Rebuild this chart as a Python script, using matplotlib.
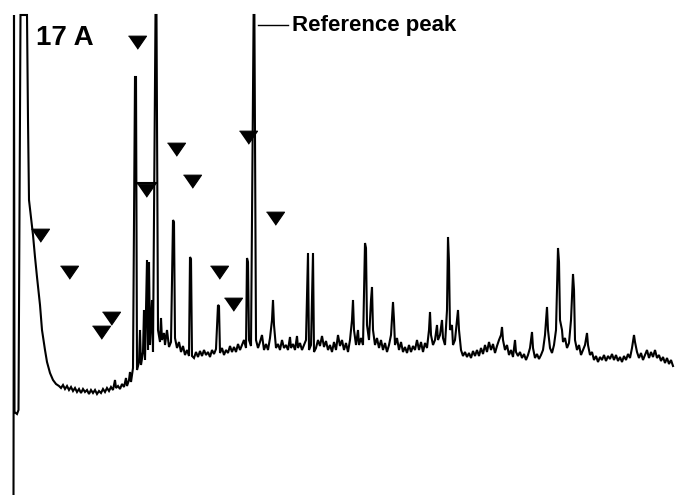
import matplotlib
matplotlib.use("Agg")
import matplotlib.pyplot as plt

plt.rcParams['font.family'] = ['Liberation Sans', 'DejaVu Sans']

# Retention (arbitrary units) and detector response (arbitrary units)
rt = [13.5, 14, 14.5, 17, 18.5, 20.5, 27, 28, 29, 31, 33, 35, 37, 40, 42, 45, 47, 50, 53, 56, 59,
      61, 63, 65, 67, 69, 71, 73, 75, 77, 79, 81, 83, 85, 87, 89, 91, 93, 95, 97, 99, 101, 103, 105,
      107, 109, 111, 113, 115, 116, 118, 120, 122, 124, 126, 127, 129, 130, 131, 133,
      135, 136, 137, 139, 140, 141, 143, 144, 145, 147, 148, 149, 150, 152, 153, 155.5, 156.5, 158, 160,
      161, 162, 164, 165, 167, 169, 171, 173, 174, 175, 177, 179, 181, 183, 185, 187, 189, 190, 191,
      192, 194, 196, 198,
      200, 202, 204, 206, 208, 210, 212, 214, 216, 218, 219, 220, 222, 224, 226, 228, 230, 232, 234,
      236, 238, 240, 242, 244, 246, 247, 248, 249, 251, 253.6, 254.4, 256, 258, 260, 262, 264, 266, 268,
      270, 272, 273, 274, 276, 278, 280, 282, 284, 286, 288, 290, 291, 293, 295, 297, 298, 300, 302,
      304, 306, 308, 309, 311, 313, 314, 316,
      318, 320, 322, 324, 326, 328, 330, 332, 334, 336, 338, 340, 342, 344, 346, 348, 350, 352, 353,
      354, 356, 358, 359, 361, 363, 365, 366, 367, 369, 371, 372, 373, 375, 377, 379, 381, 383, 385,
      387, 389, 391, 393, 394, 395, 397, 399, 401, 403, 405, 407, 409, 411, 413, 415, 417, 419, 421,
      423, 425, 427, 429, 430, 431, 433, 435, 437, 438, 440, 442, 443, 445, 447, 448, 449, 450, 452,
      453, 455, 457, 458, 459, 461, 463,
      465, 467, 469, 471, 473, 475, 477, 479, 481, 483, 485, 487, 489, 491, 493, 495, 497, 499, 501,
      502, 503, 505, 507, 509, 511, 513, 515, 516, 518, 520, 522, 524, 526, 528, 530, 532, 533, 535,
      537, 539, 541, 543, 545, 547, 548, 550, 552, 554, 556, 558, 559, 560, 562, 563, 565, 567, 569,
      571, 573, 574, 575, 577, 579, 581, 583, 585, 587, 588, 590, 592, 594, 596, 598, 600, 602, 604,
      606, 608, 610, 612, 614, 616, 618, 620, 622, 624, 626, 628, 630, 632, 634, 635, 637, 639, 641,
      643, 645, 647, 649, 651, 653, 655, 657, 659, 661, 663, 665, 667, 669, 671, 673]

response = [-5, 480, 83, 81, 85, 480, 480, 375, 295, 277, 260, 238, 218, 190, 165, 145, 133, 122, 115, 111, 109,
            107, 110, 106, 109, 105, 108, 104, 107, 103, 106, 102, 106, 103, 105, 101, 105, 102, 105, 101, 104, 102, 106, 103,
            107, 104, 108, 105, 115, 107, 109, 106, 111, 108, 117, 109, 115, 123, 113, 127,
            418, 418, 125, 133, 165, 130, 143, 185, 135, 235, 145, 233, 150, 195, 143, 480, 480, 165, 153,
            177, 155, 162, 150, 165, 148, 153, 275, 273, 157, 147, 153, 143, 149, 140, 145, 139, 238, 236,
            139, 137, 143, 138,
            144, 139, 145, 140, 143, 138, 145, 141, 146, 190, 189, 142, 147, 140, 145, 142, 149, 143, 148,
            143, 151, 145, 150, 155, 147, 237, 233, 155, 149, 480, 480, 155, 147, 153, 160, 145, 151, 145,
            157, 175, 195, 170, 147, 151, 145, 155, 147, 150, 145, 158, 147, 151, 145, 159, 147, 152, 145,
            150, 155, 242, 145, 150, 242, 143, 147,
            155, 149, 159, 148, 154, 145, 150, 143, 153, 145, 160, 149, 155, 145, 152, 143, 155, 175, 195,
            165, 150, 165, 150, 157, 150, 252, 247, 170, 155, 195, 208, 165, 150, 157, 147, 155, 145, 152,
            143, 150, 160, 193, 175, 150, 157, 145, 153, 143, 148, 142, 150, 143, 149, 145, 155, 145, 153,
            143, 152, 147, 165, 183, 160, 150, 155, 170, 155, 160, 175, 157, 150, 185, 258, 233, 165, 170,
            150, 155, 175, 185, 165, 145, 139,
            143, 138, 142, 137, 144, 139, 145, 139, 147, 141, 150, 143, 153, 145, 151, 142, 149, 155, 160,
            168, 155, 145, 150, 140, 145, 138, 155, 143, 139, 143, 137, 141, 135, 140, 147, 163, 147, 137,
            141, 136, 140, 145, 160, 188, 165, 147, 142, 150, 165, 247, 233, 175, 165, 153, 157, 147, 152,
            175, 221, 205, 155, 145, 150, 140, 145, 150, 162, 150, 140, 143, 135, 139, 133, 138, 135, 140,
            134, 139, 136, 141, 135, 140, 134, 138, 133, 139, 135, 141, 137, 147, 160, 153, 143, 137, 142,
            135, 140, 145, 137, 143, 138, 145, 137, 140, 134, 138, 132, 137, 131, 135, 129]

# Overload plateau between the two early large peaks
plateau_rt = [137, 156]
plateau_level = [312, 312]

# Marked peaks (filled triangles)
marker_rt = [137, 146, 40, 69, 111, 101, 176, 192, 248, 275, 219, 233]
marker_level = [453, 305, 260, 223, 177, 163, 346, 314, 358, 277, 223, 191]

# Reference peak label
ref_label = "Reference peak"
ref_leader_rt = [258, 288]
ref_leader_level = [470, 470]
panel_label = "17 A"

fig = plt.figure(figsize=(6.75, 4.95), dpi=100)
ax = fig.add_axes([0, 0, 1, 1])
ax.set_xlim(0, 675)
ax.set_ylim(0, 495)
ax.axis('off')

ax.plot(rt, response, color='black', lw=1.5, solid_joinstyle='miter')
ax.plot(plateau_rt, plateau_level, color='black', lw=1.5)

tri = [(-1.0, 0.7), (1.0, 0.7), (0.0, -0.75)]
ax.plot(marker_rt, marker_level, linestyle='none', marker=tri, markersize=13,
        color='black', markeredgewidth=0.8)

ax.plot(ref_leader_rt, ref_leader_level, color='black', lw=1.0)
ax.text(292, 470, ref_label, fontsize=16, fontweight='bold', ha='left', va='center')
ax.text(36, 457, panel_label, fontsize=20, fontweight='bold', ha='left', va='center')

fig.savefig('out.png', dpi=100, facecolor='white')
